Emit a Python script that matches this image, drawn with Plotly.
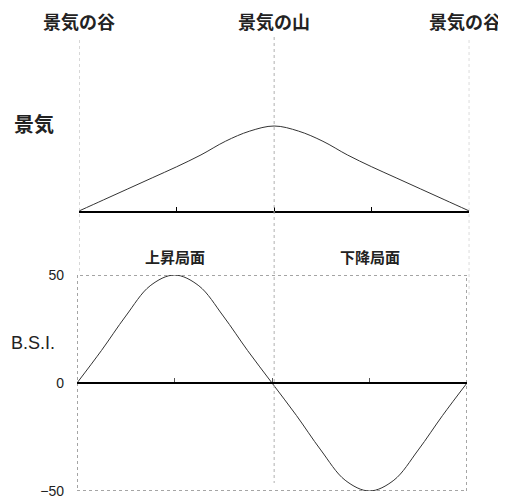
import plotly.graph_objects as go

# page body has an 8px margin; lay out in reference pixel coordinates shifted by it
OFF = 8
W, H = 506 - OFF, 499 - OFF

# ---- data ----
phase_x = [0, 0.25, 0.5, 0.75, 1, 1.25, 1.5, 1.75, 2, 2.25, 2.5, 2.75, 3, 3.25, 3.5, 3.75, 4]
keiki = [0, 13, 26, 39, 52, 66, 82, 94, 100, 94, 82, 66, 52, 39, 26, 13, 0]
bsi = [0, 15, 31, 45, 50, 45, 31, 15, 0, -15, -31, -45, -50, -45, -31, -15, 0]
top_labels = ["景気の谷", "景気の山", "景気の谷"]
top_label_x = [0, 2, 4]
phase_labels = ["上昇局面", "下降局面"]
phase_label_x = [1, 3]
bsi_ticks = [-50, 0, 50]
bsi_ticktext = ["−50", "0", "50"]

JP = "Noto Sans CJK JP"
LAT = "Liberation Sans, Arial, sans-serif"


def px(p):
    return (p - OFF) / W


def py(p):
    return 1 - (p - OFF) / H


fig = go.Figure()
fig.add_trace(go.Scatter(x=phase_x, y=keiki, mode="lines",
                         line=dict(color="#333", width=1, shape="spline", smoothing=1),
                         xaxis="x", yaxis="y", hoverinfo="skip", cliponaxis=False))
fig.add_trace(go.Scatter(x=phase_x, y=bsi, mode="lines",
                         line=dict(color="#333", width=1, shape="spline", smoothing=1),
                         xaxis="x2", yaxis="y2", hoverinfo="skip", cliponaxis=False))

shapes = []
for xv, y0, y1 in [(0, 40, 272), (2, 37, 483), (4, 40, 298)]:
    shapes.append(dict(type="line", xref="x", yref="paper", x0=xv, x1=xv,
                       y0=py(y0), y1=py(y1),
                       line=dict(color="#b0b0b0", width=1, dash="dot")))
shapes.append(dict(type="rect", xref="x2", yref="y2", x0=0, x1=4, y0=-50, y1=50,
                   line=dict(color="#4a4a4a", width=1, dash="dot"), layer="below"))

annotations = []
for t, xv in zip(top_labels, top_label_x):
    annotations.append(dict(text=t, x=xv, y=py(20.5), xref="x", yref="paper",
                            showarrow=False, xanchor="center", yanchor="middle",
                            xshift=-4 if xv == 4 else 0,
                            font=dict(family=JP, size=18, color="#222", weight="bold")))
for t, xv in zip(phase_labels, phase_label_x):
    annotations.append(dict(text=t, x=xv, y=py(257), xref="x2", yref="paper",
                            showarrow=False, xanchor="center", yanchor="middle",
                            font=dict(family=JP, size=15, color="#222", weight="bold")))
annotations.append(dict(text="景気", x=px(12), y=py(123), xref="paper", yref="paper",
                        showarrow=False, xanchor="left", yanchor="middle",
                        font=dict(family=JP, size=20, color="#222", weight="bold")))
annotations.append(dict(text="B.S.I.", x=px(9), y=py(343), xref="paper", yref="paper",
                        showarrow=False, xanchor="left", yanchor="middle",
                        font=dict(family=LAT, size=18, color="#222")))

fig.update_layout(
    width=W, height=H,
    autosize=False,
    margin=dict(l=0, r=0, t=0, b=0, pad=0, autoexpand=False),
    paper_bgcolor="white", plot_bgcolor="rgba(0,0,0,0)",
    showlegend=False,
    shapes=shapes, annotations=annotations,
    xaxis=dict(domain=[px(79), px(469.3)], range=[0, 4], anchor="y", automargin=False,
               showgrid=False, zeroline=False, showline=True, linecolor="black", linewidth=1.5,
               ticks="inside", ticklen=4, tickcolor="black", tickwidth=1,
               tickvals=[0, 1, 2, 3, 4], showticklabels=False, fixedrange=True),
    yaxis=dict(domain=[py(211), py(40)], range=[0, 171 / 85 * 100], anchor="x", automargin=False,
               showgrid=False, zeroline=False, showline=False, showticklabels=False,
               ticks="", fixedrange=True),
    xaxis2=dict(domain=[px(77), px(467)], range=[0, 4], anchor="free", position=py(383),
                automargin=False,
                showgrid=False, zeroline=False, showline=True, linecolor="black", linewidth=1.5,
                ticks="inside", ticklen=4, tickcolor="#555", tickwidth=1,
                tickvals=[0, 1, 2, 3, 4], showticklabels=False, fixedrange=True),
    yaxis2=dict(domain=[py(491), py(275)], range=[-50, 50], anchor="x2", automargin=False,
                showgrid=False, zeroline=False, showline=False,
                ticks="", tickvals=bsi_ticks, ticktext=bsi_ticktext,
                ticklabelstandoff=12, ticklabeloverflow="allow",
                tickfont=dict(family=LAT, size=14, color="#222"), fixedrange=True),
)

fig.write_html("out.html")
